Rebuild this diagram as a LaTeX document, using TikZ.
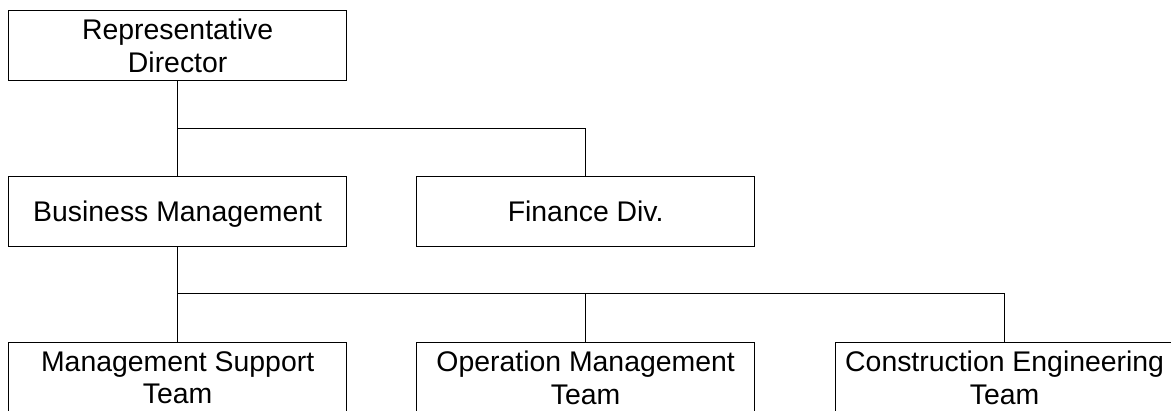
\documentclass[tikz,border=0pt]{standalone}
\usepackage{fontspec}
\setmainfont{Liberation Sans}
\begin{document}
\begin{tikzpicture}[x=1pt,y=-1pt,
  unit/.style={draw=black, line width=1.3pt, minimum width=338pt,
    minimum height=70pt, inner sep=0pt, align=center, anchor=north west,
    font=\fontsize{28.4}{32.5}\selectfont},
  oneline/.style={text height=24pt, text depth=3.7pt},
  link/.style={draw=black, line width=1pt}]
\useasboundingbox (0,0) rectangle (1171,410);
\clip (0,0) rectangle (1171,410);

% organisational units
\node[unit] (rd)  at (8,10)    {Representative\\Director};
\node[unit, oneline] (bm)  at (8,176)   {Business Management};
\node[unit, oneline] (fin) at (416,176) {Finance Div.};
\node[unit] (mst) at (8,342)   {Management Support\\Team};
\node[unit] (omt) at (416,342) {Operation Management\\Team};
\node[unit] (cet) at (835,342) {Construction Engineering\\Team};

% reporting lines
\coordinate (upper bus) at (0,128);
\coordinate (lower bus) at (0,293);
\draw[link] (rd.south) -- (bm.north);
\draw[link] (rd.south |- upper bus) -| (fin.north);
\draw[link] (bm.south) -- (mst.north);
\draw[link] (bm.south |- lower bus) -| (cet.north);
\draw[link] (omt.north |- lower bus) -- (omt.north);
\end{tikzpicture}
\end{document}
